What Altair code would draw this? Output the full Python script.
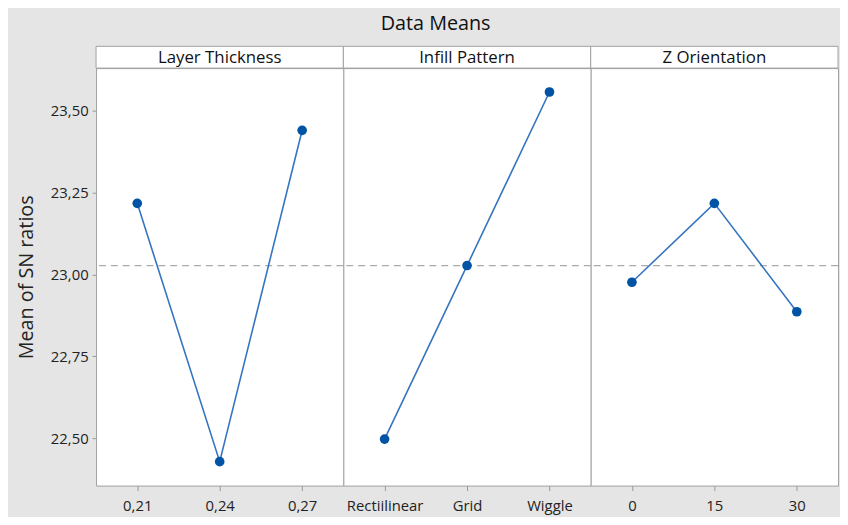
import altair as alt
import pandas as pd

# ---- data ----
factors = ["Layer Thickness", "Infill Pattern", "Z Orientation"]
lt_levels = ["0,21", "0,24", "0,27"]
lt_means = [23.217, 22.428, 23.440]
ip_levels = ["Rectiilinear", "Grid", "Wiggle"]
ip_means = [22.497, 23.027, 23.557]
zo_levels = ["0", "15", "30"]
zo_means = [22.976, 23.217, 22.886]
grand_mean = [23.027]
y_ticks = [22.50, 22.75, 23.00, 23.25, 23.50]
y_domain = [22.355, 23.63]

W, H, HEAD = 250, 422, 22
LINE = "#3574c0"
DOT = "#0053a5"
FONT = "Open Sans"


def panel(name, levels, means, first):
    df = pd.DataFrame({"level": levels, "mean": means})
    x = alt.X(
        "level:N",
        sort=levels,
        scale=alt.Scale(type="point", padding=0.5),
        axis=alt.Axis(
            title=None, labelAngle=0, labelFontSize=15, labelColor="#222",
            labelFont=FONT, tickColor="#999", tickSize=5, domain=False,
            labelPadding=8,
        ),
    )
    if first:
        yaxis = alt.Axis(
            title="Mean of SN ratios", titleFontSize=20, titleFont=FONT,
            titleFontWeight="normal", titleColor="#222", titlePadding=14,
            values=y_ticks, format=".2f",
            labelExpr="replace(datum.label, '.', ',')",
            labelFontSize=15, labelColor="#222", labelFont=FONT,
            tickColor="#999", tickSize=4, domain=False, grid=False,
            labelPadding=4,
        )
    else:
        yaxis = None
    y = alt.Y("mean:Q", scale=alt.Scale(domain=y_domain, nice=False, zero=False), axis=yaxis)

    base = alt.Chart(df)
    line = base.mark_line(color=LINE, strokeWidth=1.6).encode(x=x, y=y)
    pts = base.mark_circle(color=DOT, size=95, opacity=1).encode(x=x, y=y)
    rule = alt.Chart(pd.DataFrame({"mean": grand_mean})).mark_rule(
        color="#aaaaaa", strokeDash=[7, 5], strokeWidth=1.2
    ).encode(y=y)
    head_df = pd.DataFrame({"label": [name]})
    head_rect = alt.Chart(head_df).mark_rect(
        fill="white", stroke="#a0a0a0", strokeWidth=1
    ).encode(x=alt.value(0), x2=alt.value(W), y=alt.value(-HEAD), y2=alt.value(0))
    head_text = alt.Chart(head_df).mark_text(
        fontSize=17, font=FONT, color="#111", baseline="middle", align="center"
    ).encode(text="label:N", x=alt.value(W / 2), y=alt.value(-HEAD / 2 + 1))
    return alt.layer(rule, line, pts, head_rect, head_text).properties(width=W, height=H)


p1 = panel(factors[0], lt_levels, lt_means, True)
p2 = panel(factors[1], ip_levels, ip_means, False)
p3 = panel(factors[2], zo_levels, zo_means, False)

chart = (
    alt.hconcat(p1, p2, p3, spacing=0, bounds="flush")
    .resolve_scale(x="independent", y="independent")
    .properties(
        title=alt.TitleParams(
            "Data Means", fontSize=20, font=FONT, fontWeight="normal",
            color="#111", anchor="middle", offset=12, dx=8,
        ),
        background="#e5e5e5",
        padding={"left": 8, "top": 3, "right": 0, "bottom": 0},
    )
    .configure_view(stroke="#a0a0a0", fill="white", strokeWidth=1)
    .configure_concat(spacing=0)
)

chart.save("out.html", embed_options={"renderer": "svg", "actions": False})
